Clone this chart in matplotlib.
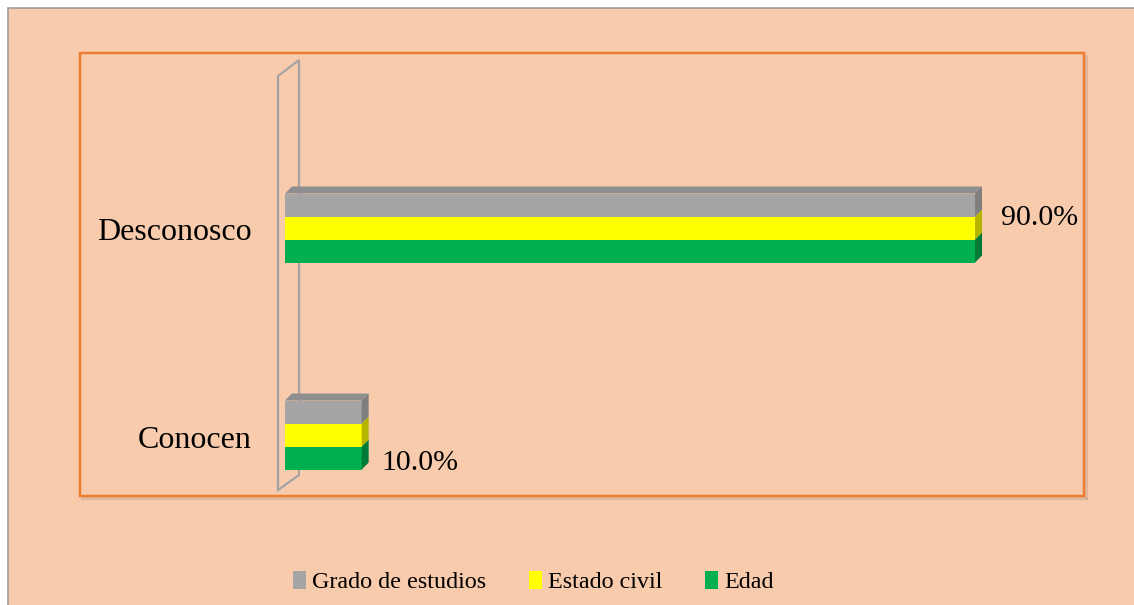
import matplotlib
matplotlib.use("Agg")
import matplotlib.pyplot as plt
from matplotlib.patches import Rectangle, Polygon
from matplotlib.lines import Line2D

# data
categories = ["Conocen", "Desconosco"]
series_names = ["Grado de estudios", "Estado civil", "Edad"]
grado = [0.10, 0.90]
estado = [0.10, 0.90]
edad = [0.10, 0.90]

colors = ["#A5A5A5", "#FFFF00", "#00B050"]
side_colors = ["#7F7F7F", "#B5B500", "#007A38"]
top_color = "#8E8E8E"
bg = "#F8CBAD"
orange = "#ED7D31"

W, H = 1134, 605
PT = 72 / 100  # px -> pt


def fx(px):
    return px / W


def fy(py):
    return 1 - py / H


plt.rcParams["font.family"] = ["Liberation Serif", "DejaVu Serif"]

fig = plt.figure(figsize=(W / 100, H / 100), dpi=100, facecolor="white")

# outer panel
fig.patches.append(Rectangle((fx(7.5), -0.05), 1.1, fy(7.5) + 0.05, transform=fig.transFigure,
                             facecolor=bg, edgecolor="#9A9A9A", lw=1.6 * PT, zorder=-5))
# soft shadow under the plot-area frame (bottom and right only)
for xs, ys in [([82, 1086], [498, 498]), ([1086, 1086], [56, 498])]:
    fig.lines.append(Line2D([fx(x) for x in xs], [fy(y) for y in ys], transform=fig.transFigure,
                            color="#C9A48C", lw=3 * PT, alpha=0.5, zorder=-4))
fig.patches.append(Rectangle((fx(80), fy(496)), fx(1004), (496 - 53) / H, transform=fig.transFigure,
                             fill=False, edgecolor=orange, lw=2.5 * PT, zorder=-3))

# axes: x=0 at px 285, 1.0 -> 766.7px; category spacing 207px
x0_px, scale_x = 285, 766.7
y0_px, scale_y = 435, 207
top_px, bot_px = 60, 490
ax = fig.add_axes([fx(x0_px), fy(bot_px), scale_x / W, (bot_px - top_px) / H])
ax.set_xlim(0, 1)
ax.set_ylim((y0_px - bot_px) / scale_y, (y0_px - top_px) / scale_y)
ax.set_facecolor("none")
ax.set_zorder(2)
for s in ax.spines.values():
    s.set_visible(False)
ax.set_xticks([])
ax.set_yticks([])

# back wall outline
wall_x = [-7 / scale_x, 14 / scale_x]
wall = Polygon([(wall_x[0], (y0_px - 490) / scale_y), (wall_x[0], (y0_px - 76) / scale_y),
                (wall_x[1], (y0_px - 60) / scale_y), (wall_x[1], (y0_px - 475) / scale_y)],
               closed=True, fill=False, edgecolor="#A3A3A3", lw=2.2 * PT, clip_on=False, zorder=1)
ax.add_patch(wall)

h = 23 / scale_y
dx, dy = 7 / scale_x, 7 / scale_y
offsets = [h, 0, -h]
series = [grado, estado, edad]
ypos = list(range(len(categories)))

# draw bottom series first so upper sides overlap
for k in [2, 1, 0]:
    vals = series[k]
    ys = [y + offsets[k] for y in ypos]
    ax.barh(ys, vals, height=h, color=colors[k], label=series_names[k], zorder=3, lw=0)
    for y, v in zip(ys, vals):
        b, t = y - h / 2, y + h / 2
        ax.add_patch(Polygon([(v, b), (v, t), (v + dx, t + dy), (v + dx, b + dy)],
                             closed=True, facecolor=side_colors[k], lw=0, zorder=3, clip_on=False))
        if k == 0:
            ax.add_patch(Polygon([(0, t), (v, t), (v + dx, t + dy), (dx, t + dy)],
                                 closed=True, facecolor=top_color, lw=0, zorder=3, clip_on=False))

# value labels
label_shift = {0: (13 / scale_x, -25 / scale_y), 1: (19 / scale_x, 13 / scale_y)}
for i, v in enumerate(edad):
    sx, sy = label_shift[i]
    ax.text(v + dx + sx, ypos[i] + sy, f"{v * 100:.1f}%", fontsize=21.5, va="center_baseline",
            ha="left", color="black", zorder=5, clip_on=False)

# category labels
for i, name in enumerate(categories):
    ax.text(-33 / scale_x, ypos[i] - 5 / scale_y, name, fontsize=23, ha="right", va="center",
            color="black", clip_on=False)

handles = [Rectangle((0, 0), 1, 1, facecolor=c, lw=0) for c in colors]
fig.legend(handles, series_names, loc="center left", bbox_to_anchor=(fx(293), fy(582)),
           ncol=3, frameon=False, fontsize=17.4, handlelength=0.54, handleheight=0.75,
           handletextpad=0.26, columnspacing=1.75, borderpad=0, borderaxespad=0)

fig.savefig("out.png", dpi=100, facecolor="white")
